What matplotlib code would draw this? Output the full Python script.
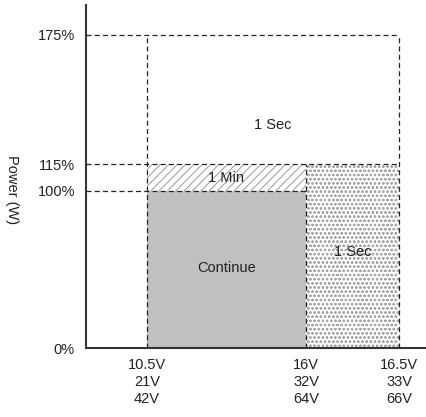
import matplotlib
matplotlib.use('Agg')
import matplotlib.pyplot as plt
import numpy as np

# data
v12 = [10.5, 16, 16.5]
v24 = [21, 32, 33]
v48 = [42, 64, 66]
levels = [0, 100, 115, 175]
level_labels = ['0%', '100%', '115%', '175%']

continue_power = 100
min_power = 115
peak_power = 175

# the drawing is not to scale: piecewise mapping of values to axis position
x_anchor = [9.5, 10.5, 16, 16.5, 17]
x_pos = [0, 61, 220, 313, 341]
y_anchor = [0, 100, 115, 175, 200]
y_pos = [0, 157, 184, 313, 343]

def fx(v): return np.interp(v, x_anchor, x_pos)
def ix(p): return np.interp(p, x_pos, x_anchor)
def fy(v): return np.interp(v, y_anchor, y_pos)
def iy(p): return np.interp(p, y_pos, y_anchor)

plt.rcParams['font.family'] = ['Liberation Sans', 'DejaVu Sans']
plt.rcParams['hatch.linewidth'] = 0.6

fig = plt.figure(figsize=(4.27, 4.17), dpi=100)
ax = fig.add_axes([86/427, 69/417, 341/427, 343/417])
ax.set_xscale('function', functions=(fx, ix))
ax.set_yscale('function', functions=(fy, iy))
ax.set_xlim(9.5, 17)
ax.set_ylim(0, 200)

txt = '#222222'
dash = (0, (4, 2.6))

# regions
ax.bar(v12[0], continue_power, width=v12[1] - v12[0], align='edge', color='#c0c0c0', linewidth=0)
ax.bar(v12[0], min_power - continue_power, bottom=continue_power, width=v12[1] - v12[0], align='edge',
       facecolor='white', edgecolor='#8a8a8a', hatch='////', linewidth=0)
ax.bar(v12[1], min_power, width=v12[2] - v12[1], align='edge',
       facecolor='white', edgecolor='#a8a8a8', hatch='oooo', linewidth=0)

# dashed guides
ax.hlines([continue_power, min_power, peak_power], 9.5, [v12[1], v12[2], v12[2]],
          colors='#222222', linewidth=0.9, linestyles=dash)
ax.vlines(v12, 0, [peak_power, min_power, peak_power],
          colors='#222222', linewidth=0.9, linestyles=dash)

ax.text(14.86, 133, '1 Sec', ha='center', va='center', fontsize=10.5, color=txt)
ax.text(13.23, 107.5, '1 Min', ha='center', va='center', fontsize=10.5, color=txt)
ax.text(13.27, 51, 'Continue', ha='center', va='center', fontsize=10.5, color=txt)
ax.text(16.25, 61, '1 Sec', ha='center', va='center', fontsize=10.5, color=txt)

ax.set_yticks(levels)
ax.set_yticklabels(level_labels)
ax.set_xticks(v12)
ax.set_xticklabels([f'{a:g}V\n{b}V\n{c}V' for a, b, c in zip(v12, v24, v48)], linespacing=1.3)
ax.tick_params(axis='both', length=0, labelsize=10.5, labelcolor=txt)
ax.tick_params(axis='y', pad=8)
ax.tick_params(axis='x', pad=7)
ax.xaxis.set_minor_locator(matplotlib.ticker.NullLocator())
ax.yaxis.set_minor_locator(matplotlib.ticker.NullLocator())

for s in ['top', 'right']:
    ax.spines[s].set_visible(False)
for s in ['left', 'bottom']:
    ax.spines[s].set_linewidth(1.5)
    ax.spines[s].set_color('#333333')

fig.text(12/427, 1 - 190/417, 'Power (W)', rotation=270, ha='center', va='center', fontsize=10.5, color=txt)

plt.savefig('out.png', dpi=100)
plt.close()
